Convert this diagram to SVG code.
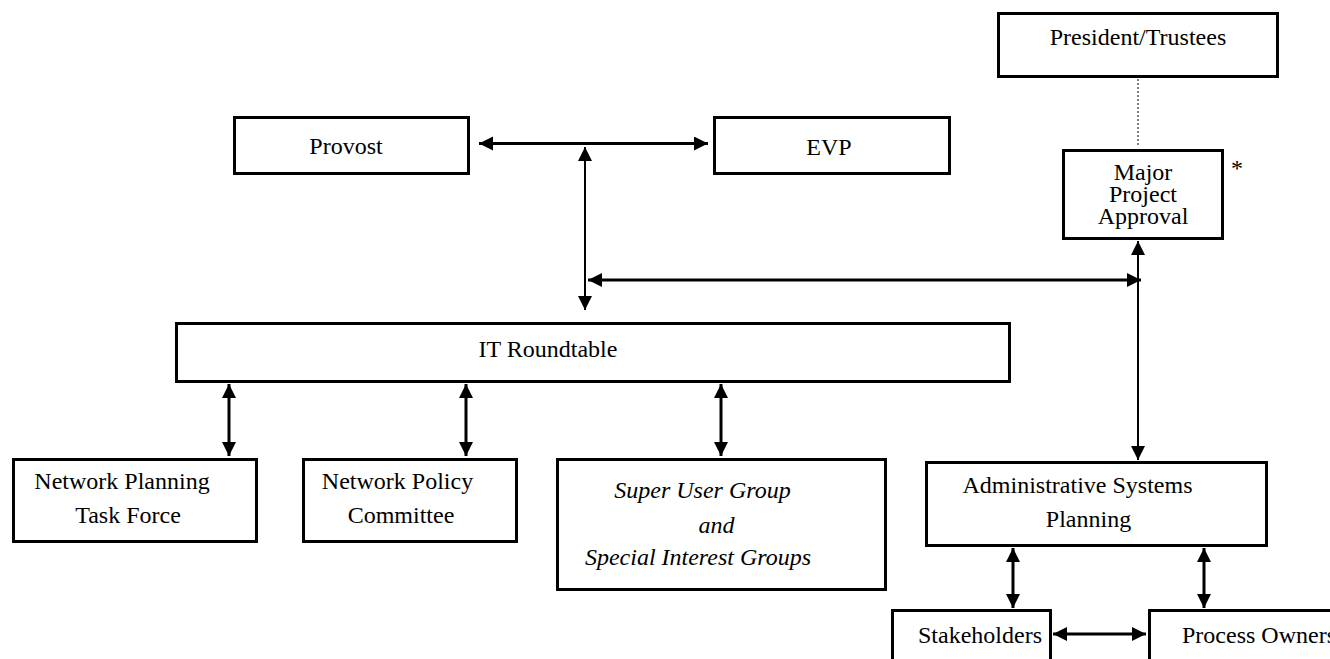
<svg xmlns="http://www.w3.org/2000/svg" width="1330" height="659" viewBox="0 0 1330 659">
<style>
.box{fill:#fff;stroke:#000;stroke-width:3}
.t{font-family:"Liberation Serif","Times New Roman",serif;font-size:24px;fill:#000;text-anchor:middle}
.i{font-style:italic}
.c{stroke:#000;fill:none;marker-start:url(#ah);marker-end:url(#ah)}
.w3{stroke-width:3}
.w2{stroke-width:2}
</style>
<defs>
<marker id="ah" markerUnits="userSpaceOnUse" markerWidth="16" markerHeight="16" refX="14" refY="7" orient="auto-start-reverse">
<path d="M0,0 L14,7 L0,14 z" fill="#000"/>
</marker>
</defs>
<rect width="1330" height="659" fill="#fff"/>
<g id="connectors">
<line class="c w3" x1="479" y1="143.5" x2="708" y2="143.5"/>
<line class="c w2" x1="585" y1="147" x2="585" y2="310"/>
<line class="c w3" x1="588" y1="280" x2="1141" y2="280"/>
<line class="c w2" x1="1138" y1="241" x2="1138" y2="460"/>
<line x1="1138" y1="71" x2="1138" y2="146" stroke="#000" stroke-width="1" stroke-dasharray="2,2"/>
<line class="c w3" x1="229" y1="384" x2="229" y2="456"/>
<line class="c w3" x1="466" y1="384" x2="466" y2="456"/>
<line class="c w3" x1="721" y1="384" x2="721" y2="456"/>
<line class="c w3" x1="1013" y1="548" x2="1013" y2="608"/>
<line class="c w3" x1="1204" y1="548" x2="1204" y2="608"/>
<line class="c w3" x1="1053" y1="634" x2="1146" y2="634"/>
</g>
<g id="president">
<rect class="box" x="998.5" y="13.5" width="279" height="63"/>
<text class="t" x="1138" y="45">President/Trustees</text>
</g>
<g id="provost">
<rect class="box" x="234.5" y="117.5" width="234" height="56"/>
<text class="t" x="346" y="154">Provost</text>
</g>
<g id="evp">
<rect class="box" x="714.5" y="117.5" width="235" height="56"/>
<text class="t" x="829" y="155">EVP</text>
</g>
<g id="major">
<rect class="box" x="1063.5" y="150.5" width="159" height="88"/>
<text class="t" x="1143" y="180">Major</text>
<text class="t" x="1143" y="202">Project</text>
<text class="t" x="1143" y="224">Approval</text>
<text class="t" x="1237" y="176">*</text>
</g>
<g id="it-roundtable">
<rect class="box" x="176.5" y="323.5" width="833" height="58"/>
<text class="t" x="548" y="357">IT Roundtable</text>
</g>
<g id="network-planning">
<rect class="box" x="13.5" y="459.5" width="243" height="82"/>
<text class="t" x="122" y="489">Network Planning</text>
<text class="t" x="128" y="523">Task Force</text>
</g>
<g id="network-policy">
<rect class="box" x="303.5" y="459.5" width="213" height="82"/>
<text class="t" x="397.5" y="489">Network Policy</text>
<text class="t" x="401" y="523">Committee</text>
</g>
<g id="super-user">
<rect class="box" x="557.5" y="459.5" width="328" height="130"/>
<text class="t i" x="702.5" y="498">Super User Group</text>
<text class="t i" x="716.5" y="533">and</text>
<text class="t i" x="698" y="565">Special Interest Groups</text>
</g>
<g id="admin">
<rect class="box" x="926.5" y="462.5" width="340" height="83"/>
<text class="t" x="1077.5" y="493">Administrative Systems</text>
<text class="t" x="1088.5" y="527">Planning</text>
</g>
<g id="stakeholders">
<rect class="box" x="892.5" y="610.5" width="158" height="60"/>
<text class="t" x="980" y="643">Stakeholders</text>
</g>
<g id="process-owners">
<rect class="box" x="1149.5" y="610.5" width="200" height="60"/>
<text class="t" x="1182" y="643" style="text-anchor:start">Process Owners</text>
</g>
</svg>
